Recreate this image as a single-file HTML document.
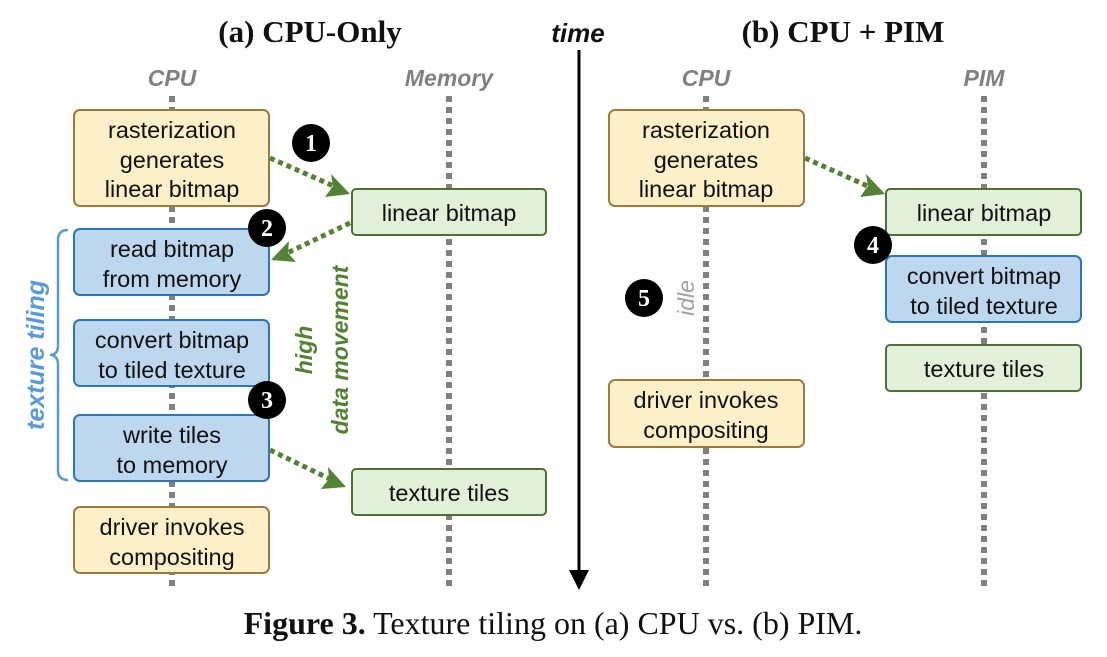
<!DOCTYPE html>
<html><head><meta charset="utf-8"><style>
html,body{margin:0;padding:0;background:#fff;}
svg{display:block;}
.bx{font-family:"Liberation Sans",sans-serif;font-size:23.5px;fill:#111;text-anchor:middle;}
.hd{font-family:"Liberation Sans",sans-serif;font-size:23px;font-weight:bold;font-style:italic;fill:#808080;text-anchor:middle;}
.num{font-family:"Liberation Serif",serif;font-size:24px;font-weight:bold;fill:#fff;text-anchor:middle;}
</style></head><body>
<svg width="1107" height="657" viewBox="0 0 1107 657" xmlns="http://www.w3.org/2000/svg">
<!-- titles -->
<text x="310" y="42" font-family="Liberation Serif,serif" font-size="31" font-weight="bold" text-anchor="middle" fill="#111">(a) CPU-Only</text>
<text x="578" y="42" font-family="Liberation Sans,sans-serif" font-size="26" font-weight="bold" font-style="italic" text-anchor="middle" fill="#111">time</text>
<text x="843" y="42" font-family="Liberation Serif,serif" font-size="31" font-weight="bold" text-anchor="middle" fill="#111">(b) CPU + PIM</text>
<text class="hd" x="172" y="86">CPU</text>
<text class="hd" x="449" y="86">Memory</text>
<text class="hd" x="706" y="86">CPU</text>
<text class="hd" x="984" y="86">PIM</text>
<!-- dotted lines -->
<g stroke="#808080" stroke-width="6" stroke-dasharray="6,5">
<line x1="172" y1="96" x2="172" y2="590"/>
<line x1="449" y1="96" x2="449" y2="590"/>
<line x1="706" y1="96" x2="706" y2="590"/>
<line x1="984" y1="96" x2="984" y2="590"/>
</g>
<!-- time axis -->
<line x1="579" y1="50" x2="579" y2="572" stroke="#000" stroke-width="3"/>
<path d="M569,570 L589,570 L579,590 z" fill="#000"/>
<g stroke-width="2">
<rect x="74" y="110" width="195" height="96" rx="6" fill="#fdf0c8" stroke="#9c7a3c"/>
<rect x="352" y="189" width="194" height="46" rx="4" fill="#e2efd9" stroke="#4f7035"/>
<rect x="74" y="229" width="195" height="66" rx="6" fill="#bdd7ee" stroke="#2e75b6"/>
<rect x="74" y="320" width="195" height="66" rx="6" fill="#bdd7ee" stroke="#2e75b6"/>
<rect x="74" y="415" width="195" height="66" rx="6" fill="#bdd7ee" stroke="#2e75b6"/>
<rect x="352" y="469" width="194" height="46" rx="4" fill="#e2efd9" stroke="#4f7035"/>
<rect x="74" y="507" width="195" height="66" rx="6" fill="#fdf0c8" stroke="#9c7a3c"/>
<rect x="609" y="110" width="195" height="96" rx="6" fill="#fdf0c8" stroke="#9c7a3c"/>
<rect x="886" y="189" width="195" height="46" rx="4" fill="#e2efd9" stroke="#4f7035"/>
<rect x="886" y="256" width="195" height="66" rx="6" fill="#bdd7ee" stroke="#2e75b6"/>
<rect x="886" y="345" width="195" height="46" rx="4" fill="#e2efd9" stroke="#4f7035"/>
<rect x="609" y="380" width="195" height="67" rx="6" fill="#fdf0c8" stroke="#9c7a3c"/>
</g>
<g class="bx">
<text x="172" y="138">rasterization</text><text x="172" y="168">generates</text><text x="172" y="197">linear bitmap</text>
<text x="449" y="221">linear bitmap</text>
<text x="172" y="257">read bitmap</text><text x="172" y="287">from memory</text>
<text x="172" y="348">convert bitmap</text><text x="172" y="378">to tiled texture</text>
<text x="172" y="443">write tiles</text><text x="172" y="473">to memory</text>
<text x="449" y="501">texture tiles</text>
<text x="172" y="535">driver invokes</text><text x="172" y="565">compositing</text>
<text x="706" y="138">rasterization</text><text x="706" y="168">generates</text><text x="706" y="197">linear bitmap</text>
<text x="984" y="221">linear bitmap</text>
<text x="984" y="284">convert bitmap</text><text x="984" y="314">to tiled texture</text>
<text x="984" y="377">texture tiles</text>
<text x="706" y="408">driver invokes</text><text x="706" y="438">compositing</text>
</g>
<!-- arrows -->
<g stroke="#548235" stroke-width="5" stroke-dasharray="5,4" fill="none">
<line x1="270" y1="158" x2="338" y2="188"/>
<line x1="350" y1="223" x2="285" y2="254"/>
<line x1="270" y1="450" x2="332" y2="480"/>
<line x1="805" y1="158" x2="872" y2="188"/>
</g>
<g fill="#548235">
<path d="M350,194 L325,197 L333,186 L331,174 z"/>
<path d="M271,260 L296,262 L288,253 L289,241 z"/>
<path d="M346,487 L321,489 L329,479 L328,467 z"/>
<path d="M885,194 L860,197 L868,186 L866,174 z"/>
</g>
<g fill="#000">
<circle cx="311" cy="143" r="19"/><circle cx="267" cy="228" r="19"/><circle cx="267" cy="400" r="19"/>
<circle cx="873" cy="245" r="19"/><circle cx="644" cy="298" r="19"/>
</g>
<g class="num">
<text x="311" y="151">1</text><text x="267" y="236">2</text><text x="267" y="408">3</text>
<text x="873" y="253">4</text><text x="644" y="306">5</text>
</g>
<text transform="translate(44,355) rotate(-90)" font-family="Liberation Sans,sans-serif" font-size="25" font-weight="bold" font-style="italic" fill="#5b9bd5" text-anchor="middle">texture tiling</text>
<path d="M68,230 Q58,230 58,240 L58,345 Q58,355 50,355 Q58,355 58,365 L58,470 Q58,480 68,480" stroke="#5b9bd5" stroke-width="2.5" fill="none"/>
<text transform="translate(312,350) rotate(-90)" font-family="Liberation Sans,sans-serif" font-size="23" font-weight="bold" font-style="italic" fill="#548235" text-anchor="middle">high</text>
<text transform="translate(348,350) rotate(-90)" font-family="Liberation Sans,sans-serif" font-size="23" font-weight="bold" font-style="italic" fill="#548235" text-anchor="middle">data movement</text>
<text transform="translate(694,298) rotate(-90)" font-family="Liberation Sans,sans-serif" font-size="23" font-style="italic" fill="#a0a0a0" text-anchor="middle">idle</text>
<text x="553" y="634" font-family="Liberation Serif,serif" font-size="32" text-anchor="middle" fill="#111"><tspan font-weight="bold">Figure 3.</tspan> Texture tiling on (a) CPU vs. (b) PIM.</text>
</svg>
</body></html>
